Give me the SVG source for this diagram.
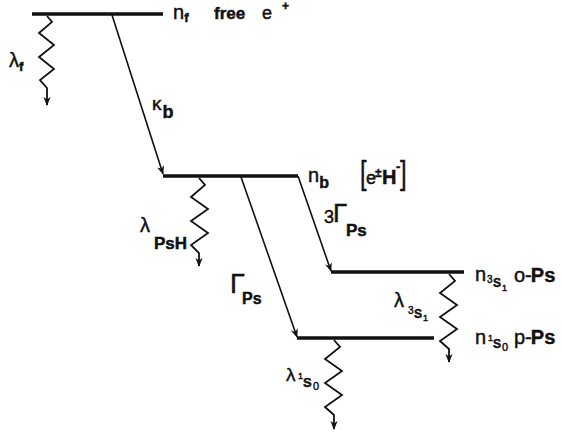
<svg xmlns="http://www.w3.org/2000/svg" width="562" height="433" viewBox="0 0 562 433">
<style>
  text { font-family: "Liberation Sans", Arial, sans-serif; fill: #111; stroke: #111; stroke-width: 0.45; }
  .lvl { stroke: #111; stroke-width: 3.5; fill: none; }
  .arr { stroke: #111; stroke-width: 1.6; fill: none; marker-end: url(#ah); }
  .wav { stroke: #111; stroke-width: 1.8; fill: none; stroke-linejoin: miter; marker-end: url(#ah); }
  .b { font-weight: bold; }
</style>
<defs>
  <marker id="ah" viewBox="0 0 10 8" refX="9" refY="4" markerWidth="9" markerHeight="7.5" markerUnits="userSpaceOnUse" orient="auto">
    <path d="M0,0 L10,4 L0,8 L3,4 z" fill="#111"/>
  </marker>
</defs>
<rect width="562" height="433" fill="#fff"/>

<g id="level-nf">
  <line class="lvl" x1="32" y1="14" x2="163" y2="14"/>
  <text x="173" y="19" font-size="20">n<tspan class="b" font-size="13" dy="3">f</tspan></text>
  <text x="214" y="19" font-size="17" class="b">free</text>
  <text x="262" y="19" font-size="18">e<tspan class="b" font-size="12" dx="10" dy="-9">+</tspan></text>
</g>

<g id="level-nb">
  <line class="lvl" x1="163" y1="176" x2="298" y2="176"/>
  <text x="308" y="182" font-size="20">n<tspan class="b" font-size="16" dy="6">b</tspan></text>
  <text transform="translate(360,184) scale(0.7,1)" font-size="34">[</text>
  <text x="366" y="184" font-size="18">e</text>
  <text x="375" y="177" font-size="12" class="b">±</text>
  <text x="382" y="184" font-size="20" class="b">H</text>
  <text x="396" y="171" font-size="13" class="b">-</text>
  <text transform="translate(400,184) scale(0.7,1)" font-size="34">]</text>
</g>

<g id="level-o-Ps">
  <line class="lvl" x1="331" y1="272" x2="464" y2="272"/>
  <text x="475" y="281" font-size="20">n</text>
  <text x="487" y="283" font-size="10">3</text>
  <text x="493" y="287" font-size="12" class="b">S</text>
  <text x="502" y="291" font-size="9">1</text>
  <text x="514" y="282" font-size="20">o-<tspan class="b" dx="-1">Ps</tspan></text>
</g>

<g id="level-p-Ps">
  <line class="lvl" x1="297" y1="338" x2="434" y2="338"/>
  <text x="475" y="344" font-size="20">n</text>
  <text x="488" y="341" font-size="9">1</text>
  <text x="493" y="348" font-size="12" class="b">S</text>
  <text x="502" y="351" font-size="11">0</text>
  <text x="514" y="344" font-size="20">p-<tspan class="b" dx="-1">Ps</tspan></text>
</g>

<g id="connectors">
  <path class="arr" d="M112,15 L163,174"/>
  <path class="arr" d="M298,176 L331,271"/>
  <path class="arr" d="M241,177 L297,337"/>
  <path class="wav" d="M47,16 L52,22 L39,33 L54,45 L39,57 L54,69 L40,80 L47,88 L47,105"/>
  <path class="wav" d="M199,178 L205,185 L191,197 L208,209 L191,221 L208,233 L191,245 L199,253 L199,266"/>
  <path class="wav" d="M449,274 L455,281 L440,293 L457,305 L440,317 L457,329 L440,341 L449,349 L449,362"/>
  <path class="wav" d="M334,340 L340,347 L325,359 L342,371 L325,383 L342,395 L325,407 L334,415 L334,429"/>
</g>

<g id="labels">
  <text x="9" y="67" font-size="20">λ<tspan class="b" font-size="13" dy="4">f</tspan></text>
  <text x="152" y="110" font-size="19">κ<tspan class="b" font-size="18" dx="1" dy="8">b</tspan></text>
  <text x="140" y="232" font-size="20">λ</text>
  <text x="154" y="249" font-size="17" class="b">PsH</text>
  <text x="324" y="223" font-size="18">3</text>
  <text x="333" y="222" font-size="26">Γ</text>
  <text x="346" y="236" font-size="17" class="b">Ps</text>
  <text x="230" y="293" font-size="27">Γ</text>
  <text x="242" y="304" font-size="16" class="b">Ps</text>
  <text x="394" y="307" font-size="20">λ</text>
  <text x="408" y="314" font-size="10">3</text>
  <text x="414" y="318" font-size="12" class="b">S</text>
  <text x="423" y="321" font-size="9">1</text>
  <text x="286" y="381" font-size="19">λ</text>
  <text x="298" y="379" font-size="9">1</text>
  <text x="303" y="387" font-size="13" class="b">S</text>
  <text x="313" y="390" font-size="11">0</text>
</g>
</svg>
